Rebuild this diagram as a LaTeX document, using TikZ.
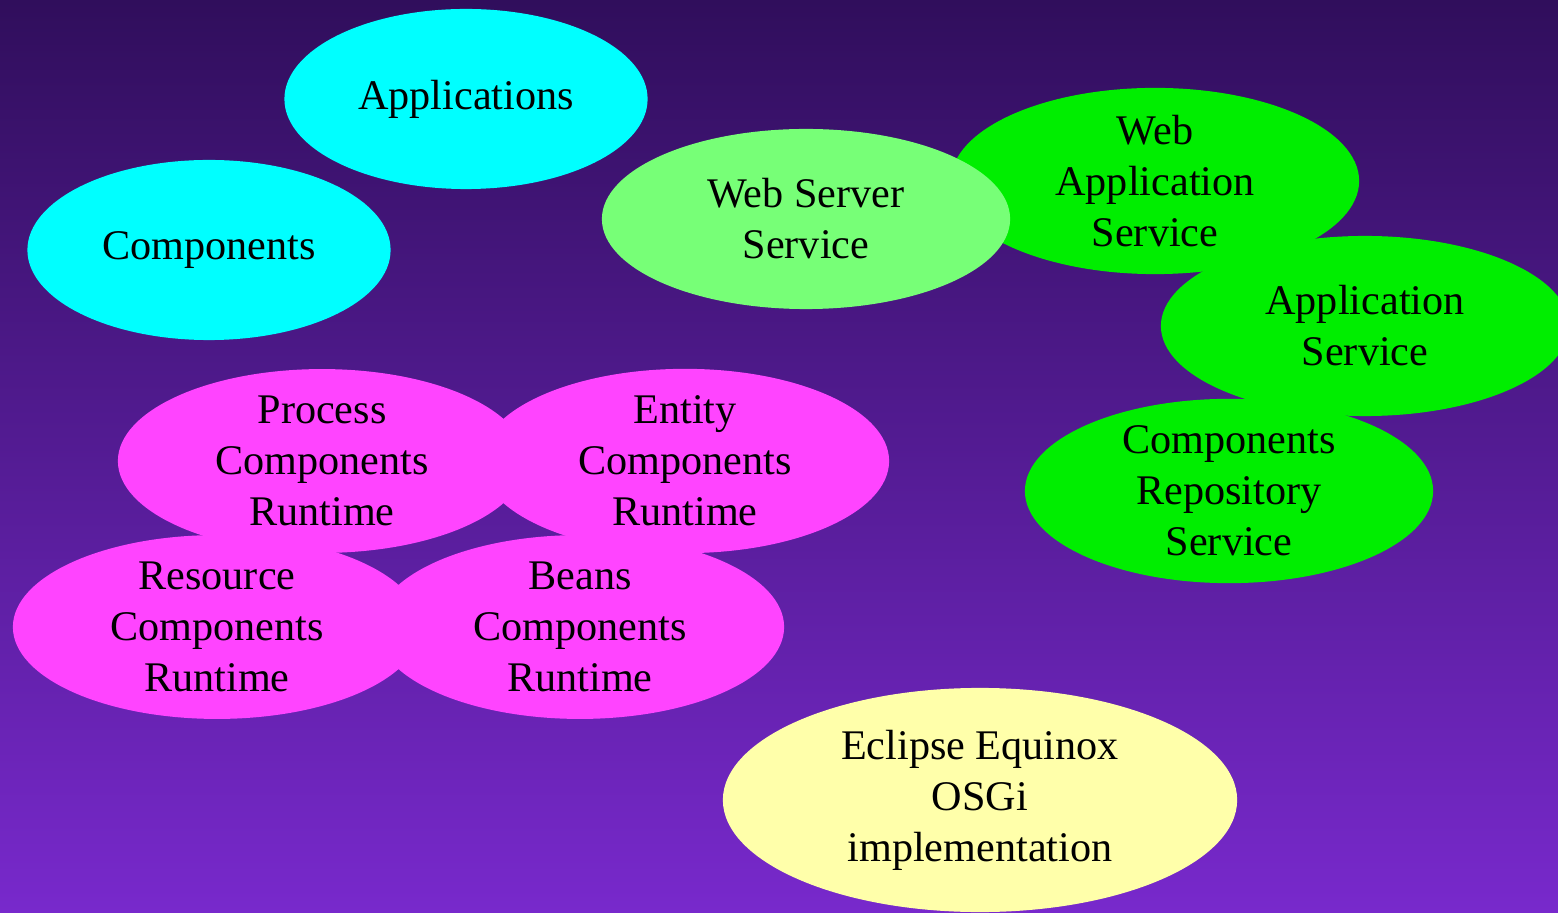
\documentclass[tikz,border=0pt]{standalone}
\usepackage{fontspec}
\setmainfont{Liberation Serif}
\usetikzlibrary{shapes.geometric}

\definecolor{bgtop}{HTML}{300E5C}
\definecolor{bgbot}{HTML}{7829CC}
\definecolor{appcyan}{HTML}{00FFFF}
\definecolor{srvgreen}{HTML}{00EE00}
\definecolor{websrv}{HTML}{77FF77}
\definecolor{rtpink}{HTML}{FF44FF}
\definecolor{osgiyel}{HTML}{FFFFAA}

\tikzset{
    blob/.style={ellipse, inner sep=0pt, align=center,
        font=\fontsize{12pt}{14.5pt}\selectfont,
        minimum width=4.08cm, minimum height=1.8cm},
    toplayer/.style={blob, fill=appcyan, minimum width=3.63cm},
    service/.style={blob, fill=srvgreen},
    runtime/.style={blob, fill=rtpink},
}

\begin{document}
\begin{tikzpicture}[x=0.01cm, y=-0.01cm]

    \shade[top color=bgtop, bottom color=bgbot] (0,0) rectangle (1558,913);
    \useasboundingbox (0,0) rectangle (1558,913);

    \node[toplayer] (apps) at (466,99) {Applications};
    \node[toplayer] (comps) at (209,250) {Components};

    \node[service] (webapp) at (1155,181) {Web\\Application\\Service};
    \node[blob, fill=websrv] (websrv) at (806,219) {Web Server\\Service};
    \node[service] (appsrv) at (1365,326) {Application\\Service};
    \node[service] (repo) at (1229,491) {Components\\Repository\\Service};

    \node[runtime] (process) at (322,461) {Process\\Components\\Runtime};
    \node[runtime] (entity) at (685,461) {Entity\\Components\\Runtime};
    \node[runtime] (resource) at (217,627) {Resource\\Components\\Runtime};
    \node[runtime] (beans) at (580,627) {Beans\\Components\\Runtime};

    \node[blob, fill=osgiyel, minimum width=5.14cm, minimum height=2.24cm] (osgi) at (980,800) {Eclipse Equinox\\OSGi\\implementation};

\end{tikzpicture}
\end{document}
